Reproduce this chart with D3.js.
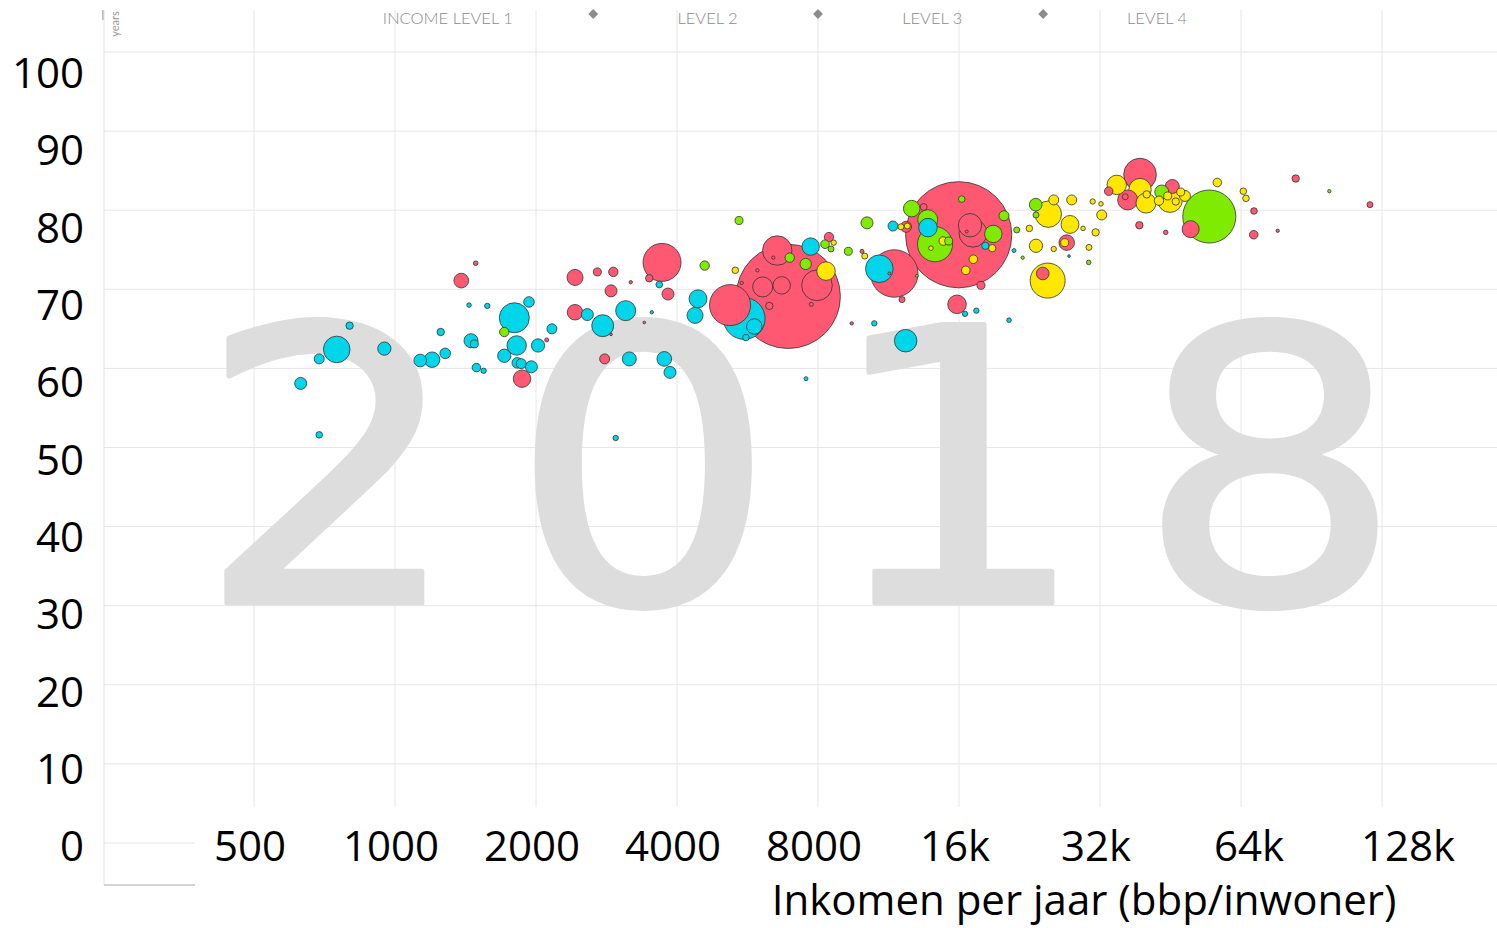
<!DOCTYPE html>
<html>
<head>
<meta charset="utf-8">
<script src="https://cdn.jsdelivr.net/npm/d3@7"></script>
<style>
  html, body { margin: 0; padding: 0; background: #fff; }
  svg { display: block; }
</style>
</head>
<body>
<div id="chart"></div>
<script>
// [income per person, life expectancy, population in millions]
const africa = [
  [751, 62.4, 88], [629, 58.1, 18], [689, 61.2, 12.5], [800, 65.4, 6.8], [689, 51.6, 5.4],
  [949, 62.5, 22], [1132, 61.0, 20], [1200, 61.1, 30], [1280, 61.9, 14], [1252, 64.6, 6.8],
  [1439, 68.0, 2.6], [1574, 67.9, 3.6], [1453, 63.5, 24.5], [1477, 63.1, 8], [1492, 60.1, 9.2],
  [1546, 59.7, 3.6], [1798, 66.4, 112], [1932, 68.4, 14], [1819, 62.9, 47], [2020, 62.9, 22],
  [2163, 65.0, 12.5], [1711, 61.6, 22], [1824, 60.7, 14], [1860, 60.6, 12.5], [1955, 60.2, 18],
  [3666, 70.6, 5.4], [2574, 66.8, 18], [3108, 67.3, 50], [2776, 65.4, 60], [3533, 67.1, 1.4],
  [3164, 61.2, 24.5], [3758, 61.2, 27], [3864, 59.5, 18], [2959, 51.2, 3.6], [4435, 68.8, 40],
  [4371, 66.7, 32], [5568, 66.3, 216], [5849, 65.3, 30], [5614, 63.9, 5.4], [7717, 75.4, 38],
  [7542, 58.7, 2], [10815, 72.6, 95], [13736, 77.8, 43], [11567, 78.0, 12.5], [10550, 65.7, 3.6],
  [12310, 63.5, 63], [18210, 75.5, 6.8], [16480, 66.9, 3.6], [17425, 67.3, 3.6], [20460, 66.1, 2.6],
  [20965, 74.9, 2], [27475, 74.2, 0.9]
];

const asia = [
  [1385, 71.1, 27], [1487, 73.3, 2.6], [2108, 63.6, 2], [1867, 58.7, 38], [3716, 73.4, 180],
  [3490, 71.4, 6.8], [3827, 69.4, 18], [2423, 71.5, 32], [2704, 72.2, 8], [2925, 72.2, 11],
  [3186, 70.9, 1.4], [2892, 69.8, 18], [2423, 67.1, 30], [3406, 65.8, 0.9], [2892, 64.3, 0.9],
  [2803, 61.2, 12.5], [5192, 68.0, 210], [6913, 69.1, 1352], [6548, 74.9, 108], [6421, 74.0, 1.4],
  [6095, 70.3, 50], [6693, 70.5, 38], [7960, 70.5, 117], [6297, 67.9, 6.8], [7740, 68.1, 2],
  [5498, 70.8, 1.4], [5937, 72.4, 1.4], [8444, 76.6, 11], [9932, 74.8, 2], [9440, 65.7, 1.4],
  [15975, 76.9, 1405], [11640, 72.0, 281], [11360, 72.0, 1.1], [13450, 80.4, 6], [16890, 78.1, 68],
  [17140, 77.1, 98], [16620, 77.3, 1.1], [17825, 70.5, 8], [15845, 68.1, 43], [12090, 68.7, 4.5],
  [12330, 77.9, 15], [24150, 72.0, 20], [27170, 75.9, 30], [38960, 84.5, 133], [36660, 81.3, 50],
  [36230, 81.7, 4.5], [33400, 82.4, 9.2], [45660, 83.0, 24.5], [38830, 78.1, 6.8], [44200, 77.2, 2.6],
  [49970, 77.6, 36], [68220, 79.9, 5.4], [68130, 76.9, 9.2], [83750, 84.0, 6.8], [76650, 77.4, 1.4],
  [120650, 80.7, 4.5]
];

const americas = [
  [1711, 64.6, 11], [4583, 73.0, 11], [5426, 78.7, 8], [6962, 74.0, 11], [7530, 73.2, 16],
  [8280, 75.7, 9.2], [8528, 75.1, 4.5], [9286, 74.8, 8], [10180, 78.4, 18], [12680, 80.2, 34],
  [13720, 78.8, 50], [14220, 75.7, 153], [15210, 76.1, 8], [16215, 81.4, 5.4], [19960, 79.3, 12.5],
  [18940, 77.0, 38], [21250, 77.5, 4.5], [23330, 80.7, 20], [23360, 79.4, 4.5], [21880, 74.0, 1.4],
  [13010, 71.7, 1.1], [43350, 82.3, 24.5], [54760, 79.2, 351], [98800, 82.4, 1.4], [30270, 73.4, 2.6]
];

const europe = [
  [5327, 72.4, 5.4], [8322, 72.3, 43], [8642, 75.9, 3.6], [10066, 74.2, 4.5], [12030, 77.9, 4.5],
  [12410, 78.0, 4.5], [14810, 76.1, 9.2], [13940, 75.2, 2.6], [18840, 75.2, 6.8], [17170, 73.8, 9.2],
  [16540, 72.4, 9.2], [24820, 79.5, 87], [24740, 71.1, 153], [25490, 81.3, 12.5], [27840, 81.3, 12.5],
  [27610, 78.2, 40], [23360, 75.5, 22], [26900, 75.9, 8], [25490, 75.1, 3.6], [30310, 75.3, 4.5],
  [22610, 77.7, 5.4], [29440, 77.7, 2.6], [31320, 77.2, 6.8], [30870, 81.1, 3.6], [32160, 80.8, 2.6],
  [32270, 79.4, 12.5], [34740, 83.2, 47], [38960, 82.6, 63], [40120, 80.9, 50], [40260, 82.0, 6.8],
  [45130, 81.3, 78], [44630, 81.8, 8], [42760, 81.2, 11], [46430, 81.1, 6.8], [47580, 82.3, 8],
  [48600, 81.8, 15], [56960, 83.5, 9.2], [64730, 82.4, 5.4], [65580, 81.5, 5.4]
];

const xTicks = [500, 1000, 2000, 4000, 8000, 16000, 32000, 64000, 128000];
const xTickLabels = ["500", "1000", "2000", "4000", "8000", "16k", "32k", "64k", "128k"];
const yTicks = [0, 10, 20, 30, 40, 50, 60, 70, 80, 90, 100];
const levelLabels = ["INCOME LEVEL 1", "LEVEL 2", "LEVEL 3", "LEVEL 4"];
const levelBounds = [2650, 8000, 24200];
const yearDigits = ["2", "0", "1", "8"];
const xTitle = "Inkomen per jaar (bbp/inwoner)";

const regionColors = {
  africa: "#00d5e9",
  asia: "#ff5872",
  americas: "#7feb00",
  europe: "#ffe700",
};

const width = 1497;
const height = 928;

const svg = d3
  .select("#chart")
  .append("svg")
  .attr("width", width)
  .attr("height", height);

const x = d3.scaleLog().base(2).domain([500, 128000]).range([254, 1382]);
const y = d3.scaleLinear().domain([0, 100]).range([843, 52]);
// the big tick labels were pasted over the chart slightly off the grid
const yLabel = d3.scaleLinear().domain([0, 100]).range([846, 73]);
const r = d3.scaleSqrt().domain([0, 1400]).range([0, 53]);

const plotLeft = 104;
const plotTop = 10;

// grid
svg
  .append("g")
  .selectAll("line")
  .data(xTicks)
  .join("line")
  .attr("x1", (d) => x(d))
  .attr("x2", (d) => x(d))
  .attr("y1", plotTop)
  .attr("y2", y(0))
  .attr("stroke", "#e6e6e6")
  .attr("stroke-width", 1);

svg
  .append("g")
  .selectAll("line")
  .data(yTicks)
  .join("line")
  .attr("x1", plotLeft)
  .attr("x2", width)
  .attr("y1", (d) => y(d))
  .attr("y2", (d) => y(d))
  .attr("stroke", "#e6e6e6")
  .attr("stroke-width", 1);

// year watermark
const digitX = d3.scalePoint().domain(d3.range(yearDigits.length)).range([330, 1270]);
svg
  .append("g")
  .selectAll("text")
  .data(yearDigits)
  .join("text")
  .attr("transform", (d, i) => `translate(${digitX(i)},603) scale(1.1,1)`)
  .attr("text-anchor", "middle")
  .style("font-family", "'DejaVu Sans', sans-serif")
  .style("font-size", "382px")
  .attr("fill", "#dddddd")
  .attr("stroke", "#dddddd")
  .attr("stroke-width", 5)
  .attr("stroke-linejoin", "round")
  .text((d) => d);

// bubbles, biggest first so small ones stay on top
const bubbles = [
  ...africa.map((d) => ({ income: d[0], life: d[1], pop: d[2], region: "africa" })),
  ...asia.map((d) => ({ income: d[0], life: d[1], pop: d[2], region: "asia" })),
  ...americas.map((d) => ({ income: d[0], life: d[1], pop: d[2], region: "americas" })),
  ...europe.map((d) => ({ income: d[0], life: d[1], pop: d[2], region: "europe" })),
].sort((a, b) => b.pop - a.pop);

svg
  .append("g")
  .selectAll("circle")
  .data(bubbles)
  .join("circle")
  .attr("cx", (d) => x(d.income))
  .attr("cy", (d) => y(d.life))
  .attr("r", (d) => Math.max(1.3, r(d.pop)))
  .attr("fill", (d) => regionColors[d.region])
  .attr("stroke", "#333")
  .attr("stroke-opacity", 0.8)
  .attr("stroke-width", 1);

// income levels along the top
const levelX = levelBounds.map((d) => x(d));
const levelStep = levelX[1] - levelX[0];

svg
  .append("g")
  .selectAll("path")
  .data(levelBounds)
  .join("path")
  .attr("d", d3.symbol(d3.symbolSquare, 48))
  .attr("transform", (d) => `translate(${x(d)},14) rotate(45)`)
  .attr("fill", "#8c8c8c");

svg
  .append("g")
  .selectAll("text")
  .data(levelLabels)
  .join("text")
  .attr("x", (d, i) => levelX[0] + (i - 0.5) * levelStep + 32)
  .attr("y", 24)
  .attr("text-anchor", "end")
  .style("font-family", "Lato, 'Open Sans', sans-serif")
  .style("font-weight", "300")
  .style("font-size", "16.5px")
  .attr("fill", "#8a8a8a")
  .text((d) => d);

svg
  .append("text")
  .attr("transform", `translate(119,24) rotate(-90)`)
  .attr("text-anchor", "middle")
  .style("font-family", "Lato, 'Open Sans', sans-serif")
  .style("font-size", "11px")
  .attr("fill", "#999")
  .text("years");

svg
  .append("line")
  .attr("x1", plotLeft - 1)
  .attr("x2", plotLeft - 1)
  .attr("y1", plotTop)
  .attr("y2", plotTop + 10)
  .attr("stroke", "#777");

// white strip under the plot where the big labels sit
svg
  .append("rect")
  .attr("x", 195)
  .attr("y", 807)
  .attr("width", width - 195)
  .attr("height", height - 807)
  .attr("fill", "#fff");

svg
  .append("line")
  .attr("x1", plotLeft)
  .attr("x2", plotLeft)
  .attr("y1", plotTop)
  .attr("y2", 885)
  .attr("stroke", "#e2e2e2");

svg
  .append("line")
  .attr("x1", plotLeft)
  .attr("x2", 195)
  .attr("y1", 885)
  .attr("y2", 885)
  .attr("stroke", "#aaa");

// tick labels
svg
  .append("g")
  .selectAll("text")
  .data(yTicks)
  .join("text")
  .attr("x", 84)
  .attr("y", (d) => yLabel(d))
  .attr("dy", "0.36em")
  .attr("text-anchor", "end")
  .style("font-family", "'Open Sans', sans-serif")
  .style("font-size", "42px")
  .attr("fill", "#000")
  .text((d) => d);

// the last two labels sit a little right of their grid lines in the original
const xLabelShift = (i) => (i === xTicks.length - 1 ? 30 : i === xTicks.length - 2 ? 12 : 0);

svg
  .append("g")
  .selectAll("text")
  .data(xTicks)
  .join("text")
  .attr("x", (d, i) => x(d) - 4 + xLabelShift(i))
  .attr("y", 846)
  .attr("dy", "0.36em")
  .attr("text-anchor", "middle")
  .style("font-family", "'Open Sans', sans-serif")
  .style("font-size", "42px")
  .attr("fill", "#000")
  .text((d, i) => xTickLabels[i]);

svg
  .append("text")
  .attr("x", 1084)
  .attr("y", 915)
  .attr("text-anchor", "middle")
  .style("font-family", "'Open Sans', sans-serif")
  .style("font-size", "42px")
  .attr("fill", "#000")
  .text(xTitle);
</script>
</body>
</html>
